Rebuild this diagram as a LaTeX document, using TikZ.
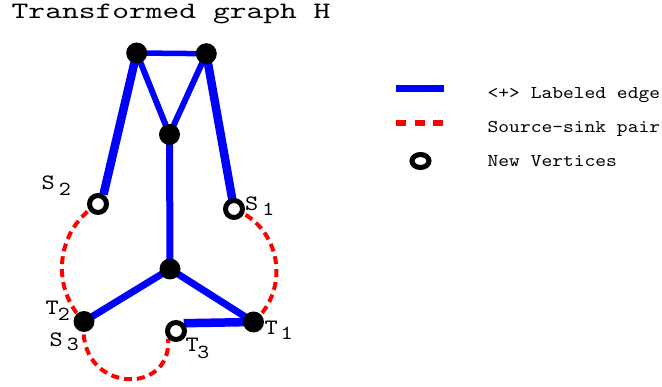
\documentclass[tikz,border=0pt]{standalone}
\usepackage{fontspec}
\newfontfamily\titlef[FakeStretch=1.36]{lmmono10-regular.otf}
\newfontfamily\legf[FakeStretch=1.14]{lmmono10-regular.otf}
\newcommand\lbl[4]{{\legf\fontsize{22}{22}\selectfont #1\hspace{#3}\raisebox{-#4}{\fontsize{20}{20}\selectfont #2}}}
\pgfdeclarelayer{bg}\pgfsetlayers{bg,main}
\begin{document}
\begin{tikzpicture}[x=1pt,y=-1pt,
  blk/.style={circle,fill=black,minimum size=21pt,inner sep=0pt},
  ring/.style={circle,draw=black,fill=white,line width=5pt,minimum size=17pt,inner sep=0pt},
  bedge/.style={draw=blue,line width=#1},
  pair/.style={draw=red,line width=4pt,dash pattern=on 8pt off 5pt},
  lab/.style={anchor=base west,inner sep=0pt},
  legtext/.style={lab,font=\legf\fontsize{18}{18}\selectfont}
]
\useasboundingbox (0,0) rectangle (662,387);

% title
\node[lab,font=\titlef\fontsize{23.5}{23.5}\selectfont] (title) at (11.5,18.5) {Transformed graph H};

% vertices
\node[blk] (A) at (136.7,53) {};
\node[blk] (B) at (206.3,53.7) {};
\node[blk] (C) at (169.5,134.5) {};
\node[blk] (D) at (170,269) {};
\node[blk] (T2) at (84,321.5) {};
\node[blk] (T1) at (253.5,322) {};
\node[ring] (S2) at (98,204) {};
\node[ring] (S1) at (234,209) {};
\node[ring] (T3) at (176,331) {};

% labels
\node[lab] (lS2) at (41.5,190) {\lbl{S}{2}{4pt}{6pt}};
\node[lab] (lS1) at (245,211) {\lbl{S}{1}{4pt}{4.5pt}};
\node[lab] (lT2) at (45.5,315) {\lbl{T}{2}{-1pt}{5.5pt}};
\node[lab] (lS3) at (49.5,347) {\lbl{S}{3}{4pt}{4pt}};
\node[lab] (lT3) at (185.5,351.5) {\lbl{T}{3}{-1.5pt}{7pt}};
\node[lab] (lT1) at (264.5,334.5) {\lbl{T}{1}{3pt}{5.5pt}};

\begin{pgfonlayer}{bg}
  % source-sink pairs
  \draw[pair] (S2.center) .. controls +(-41.7,25.1) and +(-34.5,-34.6) .. (T2.center);
  \draw[pair] (S1.center) .. controls +(46.9,18) and +(37.7,-33.2) .. (T1.center);
  \draw[pair] (T2.center) .. controls +(-8,70.5) and +(3.6,59.4) .. (T3.225);
  % labeled edges
  \draw[bedge=5.5pt] (A.center) -- (B.center);
  \draw[bedge=6pt] (A.center) -- (C.center);
  \draw[bedge=6pt] (B.center) -- (C.center);
  \draw[bedge=7pt] (C.center) -- (D.center);
  \draw[bedge=7pt] (D.center) -- (T2.center);
  \draw[bedge=7pt] (D.center) -- (T1.center);
  \draw[bedge=8.5pt] (A.center) -- (S2.60);
  \draw[bedge=8.5pt] (B.center) -- (S1.center);
  \draw[bedge=8.5pt] (T3.45) -- (T1.center);
\end{pgfonlayer}

% legend
\coordinate (lb1) at (396,89);
\coordinate (lb2) at (444,89);
\draw[blue,line width=7pt] (lb1) -- (lb2);
\coordinate (lr1) at (396,123);
\coordinate (lr2) at (443,123);
\draw[red,line width=6pt,dash pattern=on 10pt off 8.5pt] (lr1) -- (lr2);
\coordinate (lc) at (420.5,161);
\draw[black,line width=5pt] (lc) ellipse [x radius=8.5,y radius=6.5];
\node[legtext] (leg1) at (487.5,99) {<+> Labeled edge};
\node[legtext] (leg2) at (487.5,133) {Source-sink pair};
\node[legtext] (leg3) at (487.5,167) {New Vertices};
\end{tikzpicture}
\end{document}
